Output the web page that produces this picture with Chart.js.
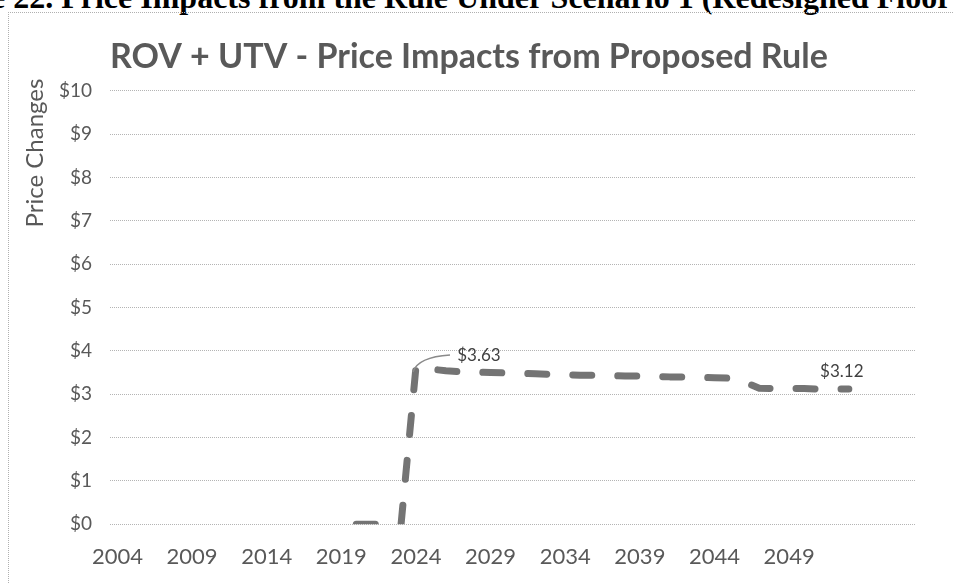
<!DOCTYPE html>
<html>
<head>
<meta charset="utf-8">
<script src="https://cdn.jsdelivr.net/npm/chart.js@4.4.1/dist/chart.umd.min.js"></script>
<style>
html, body { margin: 0; padding: 0; background: #fff; overflow: hidden; }
#wrap { position: relative; width: 954px; height: 583px; overflow: hidden; }
#fig { position: absolute; left: -9px; top: -19px; font: bold 32px "Liberation Serif", serif; line-height: 32px; white-space: nowrap; color: #000; }
#frame { position: absolute; left: 8px; top: 12px; width: 1000px; height: 700px; border-left: 1px dotted #b0b0b0; border-top: 1px dotted #b0b0b0; }
canvas { position: absolute; left: 0; top: 0; }
</style>
</head>
<body>
<div id="wrap">
  <div id="fig">e 22. Price Impacts from the Rule Under Scenario 1 (Redesigned Floor</div>
  <div id="frame"></div>
  <canvas id="priceChart" width="954" height="583"></canvas>
</div>
<script>
// values
var years = [2020, 2021, 2022, 2023, 2024, 2025, 2026, 2027, 2028, 2029,
             2030, 2031, 2032, 2033, 2034, 2035, 2036, 2037, 2038, 2039,
             2040, 2041, 2042, 2043, 2044, 2045, 2046, 2047, 2048, 2049,
             2050, 2051, 2052, 2053];
var priceChange = [0, 0, 0, 0, 3.63, 3.58, 3.54, 3.52, 3.51, 3.50,
                   3.49, 3.48, 3.47, 3.46, 3.45, 3.44, 3.44, 3.43, 3.42, 3.42,
                   3.41, 3.40, 3.40, 3.39, 3.38, 3.37, 3.28, 3.14, 3.13, 3.13,
                   3.13, 3.12, 3.12, 3.12];
var tickYears = [2004, 2009, 2014, 2019, 2024, 2029, 2034, 2039, 2044, 2049];
var yTicks = [0, 1, 2, 3, 4, 5, 6, 7, 8, 9, 10];
var labelYears = [2024, 2053];

var grey = '#595959';

var textPlugin = {
    id: 'textPlugin',
    afterDraw: function(chart) {
        var ctx = chart.ctx;
        ctx.save();
        // chart title
        ctx.fillStyle = grey;
        ctx.font = 'bold 34px Lato';
        ctx.textAlign = 'left';
        ctx.textBaseline = 'alphabetic';
        ctx.fillText('ROV + UTV - Price Impacts from Proposed Rule', 110, 68);

        // axis title, sits at the top of the axis
        ctx.save();
        ctx.translate(43, 153);
        ctx.rotate(-Math.PI / 2);
        ctx.textAlign = 'center';
        ctx.font = '24px Lato';
        ctx.fillText('Price Changes', 0, 0);
        ctx.restore();

        // data labels
        var meta = chart.getDatasetMeta(0);
        ctx.fillStyle = '#404040';
        ctx.font = '17px Lato';
        ctx.textAlign = 'center';
        ctx.textBaseline = 'middle';
        labelYears.forEach(function(yr, k) {
            var i = years.indexOf(yr);
            var p = meta.data[i];
            var txt = '$' + priceChange[i].toFixed(2);
            if (k == 0) {
                ctx.fillText(txt, p.x + 63, p.y - 11);
                ctx.strokeStyle = '#8a8a8a';
                ctx.lineWidth = 1.5;
                ctx.beginPath();
                ctx.moveTo(p.x - 3, p.y + 5);
                ctx.quadraticCurveTo(p.x + 2, p.y - 10, p.x + 34, p.y - 12);
                ctx.stroke();
            } else {
                ctx.fillText(txt, p.x - 7, p.y - 18);
            }
        });
        ctx.restore();
    }
};

var ctx = document.getElementById('priceChart').getContext('2d');
var chart = new Chart(ctx, {
    type: 'line',
    data: {
        datasets: [{
            label: 'ROV + UTV',
            data: years.map(function(y, i) { return { x: y, y: priceChange[i] }; }),
            borderColor: '#747474',
            borderWidth: 7,
            borderDash: [19, 26],
            borderCapStyle: 'round',
            borderJoinStyle: 'round',
            pointRadius: 0,
            tension: 0,
            fill: false
        }]
    },
    options: {
        responsive: false,
        devicePixelRatio: 1,
        animation: false,
        layout: { padding: { top: 90.7, right: 38, left: 0, bottom: 0 } },
        plugins: {
            legend: { display: false },
            title: { display: false },
            tooltip: { enabled: false }
        },
        scales: {
            x: {
                type: 'linear',
                min: 2003.5,
                max: 2057.5,
                grid: { display: false },
                border: { display: false },
                afterBuildTicks: function(s) {
                    s.ticks = tickYears.map(function(v) { return { value: v }; });
                },
                afterFit: function(s) { s.height = 58.7; },
                ticks: {
                    autoSkip: false,
                    maxRotation: 0,
                    padding: 11,
                    color: grey,
                    font: { family: 'Lato', size: 22 },
                    callback: function(v) { return String(v); }
                }
            },
            y: {
                min: 0,
                max: 10,
                afterBuildTicks: function(s) {
                    s.ticks = yTicks.map(function(v) { return { value: v }; });
                },
                afterFit: function(s) { s.width = 110; },
                grid: { color: '#b4b4b4', lineWidth: 1, drawTicks: false },
                border: { display: false, dash: [1, 1] },
                ticks: {
                    padding: 18,
                    color: grey,
                    font: { family: 'Lato', size: 19 },
                    callback: function(v) { return '$' + v; }
                }
            }
        }
    },
    plugins: [textPlugin]
});
</script>
</body>
</html>
